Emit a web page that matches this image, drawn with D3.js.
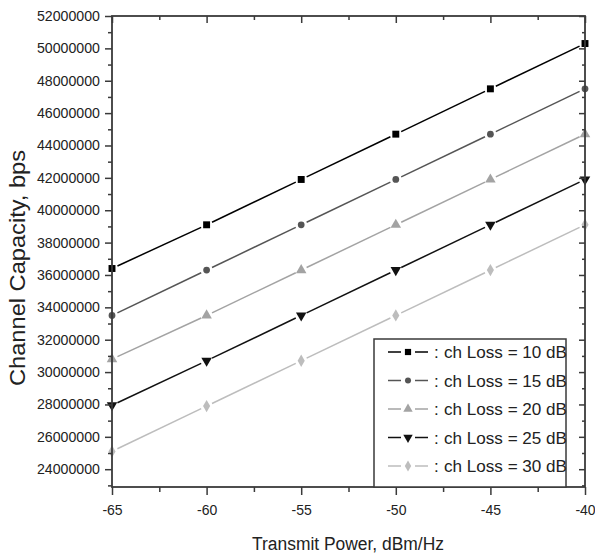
<!DOCTYPE html>
<html><head><meta charset="utf-8">
<script src="https://cdn.jsdelivr.net/npm/d3@7"></script>
<style>body{margin:0;background:#fff}svg{display:block}text{font-family:"Liberation Sans",Arial,sans-serif;fill:#222}</style>
</head><body><svg id="c" width="595" height="558"></svg>
<script>
const powers = [-65, -60, -55, -50, -45, -40];
const loss10 = [36400000, 39100000, 41900000, 44700000, 47500000, 50300000];
const loss15 = [33500000, 36300000, 39100000, 41900000, 44700000, 47500000];
const loss20 = [30800000, 33500000, 36300000, 39100000, 41900000, 44700000];
const loss25 = [27950000, 30700000, 33500000, 36300000, 39100000, 41900000];
const loss30 = [25100000, 27900000, 30700000, 33500000, 36300000, 39100000];
const seriesNames = ["ch Loss = 10 dB", "ch Loss = 15 dB", "ch Loss = 20 dB", "ch Loss = 25 dB", "ch Loss = 30 dB"];
const yTicks = [24000000,26000000,28000000,30000000,32000000,34000000,36000000,38000000,40000000,42000000,44000000,46000000,48000000,50000000,52000000];
const xTicks = [-65, -60, -55, -50, -45, -40];

const series = [loss10, loss15, loss20, loss25, loss30];
const colors = ["#000000", "#555555", "#a3a3a3", "#111111", "#bdbdbd"];
const symbols = [
  {t: d3.symbolSquare, s: 48, r: 0},
  {t: d3.symbolCircle, s: 36, r: 0},
  {t: d3.symbolTriangle, s: 48, r: 0},
  {t: d3.symbolTriangle, s: 48, r: 180},
  {t: d3.symbolDiamond, s: 44, r: 0}
];

const L = 112, R = 585, T = 16, B = 487;
const x = d3.scaleLinear().domain([-65, -40]).range([L, R]);
const y = d3.scaleLinear().domain([22900000, 52000000]).range([B, T]);
const svg = d3.select("#c");
const axisColor = "#3a3a3a";
const plainInt = d => String(Math.round(d));

// series
series.forEach((vals, i) => {
  const g = svg.append("g");
  const pts = powers.map((p, j) => [x(p), y(vals[j])]);
  const gap = 6;
  for (let j = 0; j < pts.length - 1; j++) {
    const [x1, y1] = pts[j], [x2, y2] = pts[j + 1];
    const dx = x2 - x1, dy = y2 - y1, len = Math.hypot(dx, dy);
    const ux = dx / len, uy = dy / len;
    g.append("line")
      .attr("x1", x1 + ux * gap).attr("y1", y1 + uy * gap)
      .attr("x2", x2 - ux * gap).attr("y2", y2 - uy * gap)
      .attr("stroke", colors[i]).attr("stroke-width", 1.5);
  }
  pts.forEach(([px, py]) => {
    g.append("path")
      .attr("d", d3.symbol().type(symbols[i].t).size(symbols[i].s)())
      .attr("transform", `translate(${px},${py}) rotate(${symbols[i].r})`)
      .attr("fill", colors[i]);
  });
});

// axes frame
svg.append("rect").attr("x", L).attr("y", T).attr("width", R - L).attr("height", B - T)
  .attr("fill", "none").attr("stroke", axisColor).attr("stroke-width", 1.8);

// left axis (outward ticks)
const yMinor = d3.range(23000000, 52000000, 2000000);
const yAxisL = d3.axisLeft(y).tickValues(yTicks).tickSize(7).tickPadding(5).tickFormat(plainInt);
const gl = svg.append("g").attr("transform", `translate(${L},0)`).call(yAxisL);
gl.select(".domain").remove();
gl.selectAll(".tick line").attr("stroke", axisColor).attr("stroke-width", 1.5);
gl.selectAll(".tick text").attr("font-size", 14).attr("fill", "#222")
  .style("font-family", '"Liberation Sans",Arial,sans-serif').attr("textLength", 63).attr("lengthAdjust", "spacingAndGlyphs");
const glm = svg.append("g").attr("transform", `translate(${L},0)`).call(d3.axisLeft(y).tickValues(yMinor).tickSize(4).tickFormat(""));
glm.select(".domain").remove();
glm.selectAll(".tick line").attr("stroke", axisColor).attr("stroke-width", 1.5);

// right axis (inward ticks)
const gr = svg.append("g").attr("transform", `translate(${R},0)`).call(d3.axisLeft(y).tickValues(yTicks).tickSize(6).tickFormat(""));
gr.select(".domain").remove();
gr.selectAll(".tick line").attr("stroke", axisColor).attr("stroke-width", 1.5);
const grm = svg.append("g").attr("transform", `translate(${R},0)`).call(d3.axisLeft(y).tickValues(yMinor).tickSize(3).tickFormat(""));
grm.select(".domain").remove();
grm.selectAll(".tick line").attr("stroke", axisColor).attr("stroke-width", 1.5);

// bottom axis (outward)
const xMinor = [-62.5, -57.5, -52.5, -47.5, -42.5];
const gb = svg.append("g").attr("transform", `translate(0,${B})`).call(d3.axisBottom(x).tickValues(xTicks).tickSize(8).tickPadding(10).tickFormat(plainInt));
gb.select(".domain").remove();
gb.selectAll(".tick line").attr("stroke", axisColor).attr("stroke-width", 1.5);
gb.selectAll(".tick text").attr("font-size", 14).attr("fill", "#222").style("font-family", '"Liberation Sans",Arial,sans-serif');
const gbm = svg.append("g").attr("transform", `translate(0,${B})`).call(d3.axisBottom(x).tickValues(xMinor).tickSize(5).tickFormat(""));
gbm.select(".domain").remove();
gbm.selectAll(".tick line").attr("stroke", axisColor).attr("stroke-width", 1.5);

// top axis (inward)
const gt = svg.append("g").attr("transform", `translate(0,${T})`).call(d3.axisBottom(x).tickValues(xTicks).tickSize(7).tickFormat(""));
gt.select(".domain").remove();
gt.selectAll(".tick line").attr("stroke", axisColor).attr("stroke-width", 1.5);
const gtm = svg.append("g").attr("transform", `translate(0,${T})`).call(d3.axisBottom(x).tickValues(xMinor).tickSize(4).tickFormat(""));
gtm.select(".domain").remove();
gtm.selectAll(".tick line").attr("stroke", axisColor).attr("stroke-width", 1.5);

// titles
svg.append("text").attr("x", 348).attr("y", 550).attr("text-anchor", "middle")
  .attr("font-size", 18).attr("textLength", 192).attr("lengthAdjust", "spacingAndGlyphs")
  .text("Transmit Power, dBm/Hz");
svg.append("text").attr("transform", "translate(25,268) rotate(-90)").attr("text-anchor", "middle")
  .attr("font-size", 22).attr("textLength", 236).attr("lengthAdjust", "spacingAndGlyphs")
  .text("Channel Capacity, bps");

// legend
const lg = svg.append("g");
lg.append("rect").attr("x", 374).attr("y", 339).attr("width", 192).attr("height", B - 339)
  .attr("fill", "#fff").attr("stroke", axisColor).attr("stroke-width", 1.5);
seriesNames.forEach((name, i) => {
  const ly = 352 + i * 28.5;
  lg.append("line").attr("x1", 388).attr("x2", 401).attr("y1", ly).attr("y2", ly).attr("stroke", colors[i]).attr("stroke-width", 1.5);
  lg.append("line").attr("x1", 415).attr("x2", 428).attr("y1", ly).attr("y2", ly).attr("stroke", colors[i]).attr("stroke-width", 1.5);
  lg.append("path").attr("d", d3.symbol().type(symbols[i].t).size(symbols[i].s * 0.8)())
    .attr("transform", `translate(408,${ly}) rotate(${symbols[i].r})`).attr("fill", colors[i]);
  lg.append("text").attr("x", 434).attr("y", ly + 6).attr("font-size", 17).text(":");
  lg.append("text").attr("x", 444).attr("y", ly + 6).attr("font-size", 17)
    .attr("textLength", 123).attr("lengthAdjust", "spacingAndGlyphs").text(name);
});
</script></body></html>
